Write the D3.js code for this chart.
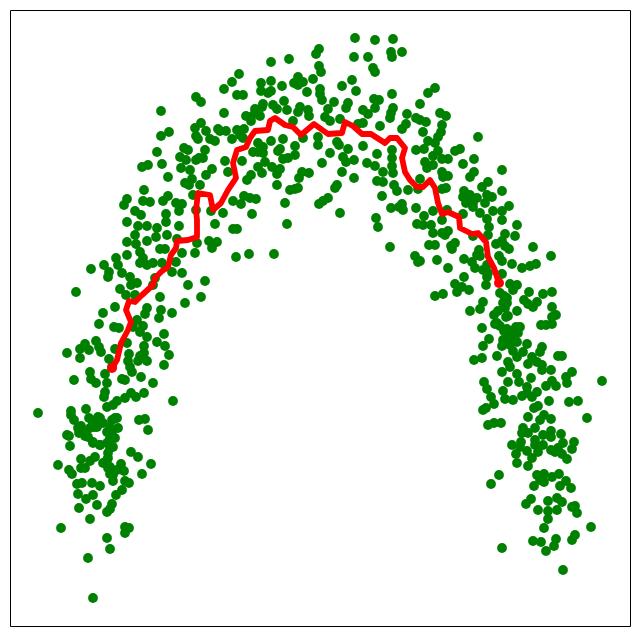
<!DOCTYPE html>
<html>
<style>
    html, body { margin: 0; padding: 0; background: #fff; }
    svg { display: block; }
</style>
<body>
<svg id="viz" width="640" height="636"></svg>
<script src="https://cdnjs.cloudflare.com/ajax/libs/d3/7.8.5/d3.min.js"></script>
<script>
// values, as [x, y]
var scatterTopLeft = [[185,529],[190,524],[150,515],[190,503],[184,498],[195,495],[158,494],[150,490],[185,490],[187,487],[207,497],[199,487],[204,485],[173,478],[177,476],[146,474],[194,476],[188,468],[185,466],[192,468],[169,469],[175,466],[151,462],[137,461],[131,459],[170,458],[179,456],[201,457],[195,451],[157,449],[181,447],[174,443],[178,441],[189,441],[133,436],[182,431],[157,430],[132,425],[139,424],[152,425],[165,423],[171,422],[116,427],[113,421],[124,415],[130,411],[168,415],[185,416],[200,415],[155,412],[116,404],[127,400],[136,400],[146,398],[155,404],[168,400],[204,402]];

var scatterTop = [[344,588],[364,586],[382,587],[308,577],[305,572],[380,574],[391,574],[343,569],[357,569],[381,569],[278,567],[260,564],[308,560],[362,558],[364,554],[310,554],[228,552],[221,544],[213,537],[250,543],[260,545],[287,549],[341,546],[302,547],[283,543],[292,544],[287,541],[271,540],[331,540],[345,535],[309,537],[296,534],[250,535],[260,535],[257,533],[309,532],[226,531],[232,531],[381,532],[311,526],[273,525],[323,524],[363,527],[368,526],[252,522],[262,521],[337,523],[335,518],[382,518],[364,518],[352,516],[317,517],[276,516],[289,519],[297,516],[266,517],[244,517],[213,513],[287,514],[396,512],[405,508],[380,513],[379,508],[357,512],[235,510],[240,509],[249,510],[298,510],[314,509],[319,505],[329,507],[282,505],[240,505],[395,502],[391,497],[369,500],[352,503],[347,502],[215,495],[226,496],[233,497],[209,495],[221,487],[229,491],[232,488],[260,485],[272,487],[292,488],[307,489],[307,481],[326,484],[352,480],[328,481],[284,480],[269,477],[247,483],[252,479],[242,474],[247,474],[252,473],[405,476],[381,476],[337,477],[319,473],[366,472],[332,469],[267,475],[284,471],[277,468],[272,467],[214,465],[231,465],[381,468],[343,466],[335,464],[311,463],[356,463],[364,460],[381,460],[254,464],[247,459],[261,459],[269,457],[331,454],[217,454],[372,454],[382,453],[251,453],[266,452],[298,453],[291,454],[288,448],[240,451],[236,446],[343,448],[366,445],[372,444],[266,441],[326,441],[324,438],[287,438],[279,436],[284,437],[383,441],[386,435],[397,436],[407,437],[371,430],[233,430],[239,428],[245,427],[222,425],[230,422],[317,428],[312,425],[308,422],[274,423],[241,412],[212,413],[329,413],[391,422],[388,419],[380,418],[405,418],[392,416],[365,408],[406,402],[276,402],[367,399],[222,397],[226,397],[225,369],[238,372],[263,372],[379,379],[404,370],[407,364],[244,513],[251,519]];

var scatterTopRight = [[424,538],[417,533],[409,522],[429,513],[435,510],[415,504],[409,506],[431,501],[412,494],[430,494],[467,489],[427,489],[417,485],[424,483],[449,477],[444,475],[413,477],[427,475],[422,470],[437,467],[431,467],[463,467],[414,464],[452,462],[422,461],[491,456],[416,458],[463,454],[459,449],[431,454],[437,450],[432,449],[477,444],[471,439],[409,447],[491,435],[435,438],[431,437],[453,435],[452,429],[459,431],[466,428],[476,431],[481,429],[455,423],[462,423],[474,423],[462,419],[498,420],[482,415],[491,415],[469,413],[422,415],[436,416],[452,412],[413,410],[431,406],[476,407],[491,406],[506,401],[412,401],[420,401],[478,399],[422,393],[437,395],[431,393],[434,391],[462,390],[477,391],[494,392],[504,390],[418,381],[424,381],[444,383],[440,380],[441,377],[491,385],[485,382],[494,380],[498,377],[522,379],[540,370],[468,376],[466,371],[488,370],[453,367],[426,366],[409,365],[461,364],[469,370],[491,365],[501,362],[525,362],[519,360],[511,358],[437,358],[464,358],[476,361],[472,356],[477,353],[491,352],[453,349],[476,349]];

var scatterRight = [[444,342],[451,339],[458,336],[446,334],[424,330],[432,332],[475,341],[499,342],[506,341],[502,336],[489,333],[518,334],[532,332],[541,334],[496,328],[513,326],[526,324],[517,322],[522,319],[541,319],[472,324],[492,323],[496,323],[469,317],[459,315],[494,318],[506,315],[487,315],[483,311],[495,309],[545,311],[541,309],[486,303],[489,300],[484,302],[530,301],[535,301],[541,302],[471,298],[505,299],[496,297],[509,299],[502,295],[507,293],[499,291],[478,287],[492,286],[497,287],[506,284],[499,281],[516,282],[491,280],[472,280],[531,279],[529,274],[502,275],[512,274],[506,269],[521,269],[486,270],[471,268],[463,266],[547,270],[551,270],[497,264],[526,264],[517,262],[499,259],[531,261],[531,256],[540,256],[491,254],[506,252],[561,254],[555,249],[520,248],[508,244],[497,244],[556,243],[473,244],[591,245],[541,245],[535,240],[545,240],[516,239],[476,237],[492,235],[526,234],[516,233],[511,230],[521,229],[480,229],[494,227],[502,226],[538,225],[558,224],[567,225],[483,222],[475,218],[472,216],[527,220],[523,218],[533,211],[517,209],[540,207],[529,206],[576,208],[490,203],[483,203],[477,201],[524,198],[512,198],[511,193],[517,193],[532,191],[540,195],[540,189],[550,192],[563,184],[524,186],[510,184],[501,181],[524,181],[532,181],[509,179],[552,183],[547,178],[561,177],[516,175],[527,174],[540,176],[544,174],[551,172],[505,172],[556,167],[521,168],[506,163],[517,160],[493,330],[497,310],[493,295],[500,288]];

var scatterBottomRight = [[488,151],[480,142],[526,151],[533,152],[541,149],[548,152],[555,145],[533,144],[529,146],[523,140],[549,140],[560,138],[520,127],[515,122],[546,128],[537,125],[551,124],[527,116],[537,115],[546,116],[561,119],[564,120],[566,113],[537,107],[533,98],[580,99],[564,91],[561,86],[545,87],[522,85],[530,84],[543,80],[535,75],[491,78],[552,56]];

var scatterLeft = [[124,391],[116,384],[125,382],[136,385],[145,389],[156,391],[166,387],[186,383],[198,385],[206,384],[201,378],[149,377],[154,377],[184,373],[171,373],[129,374],[116,371],[132,368],[105,368],[93,361],[107,361],[129,363],[136,361],[142,363],[151,363],[165,364],[80,357],[98,354],[97,349],[111,353],[119,349],[161,354],[171,353],[126,343],[120,341],[144,348],[177,341],[194,345],[109,337],[65,334],[115,331],[142,341],[124,331],[149,329],[190,329],[174,323],[104,319],[136,318],[150,316],[134,312],[92,313],[161,313],[148,308],[126,306],[88,302],[103,299],[108,298],[132,300],[122,299],[129,294],[153,292],[136,289],[116,283],[146,284],[85,285],[74,282],[69,277],[78,276],[88,279],[90,274],[133,280],[154,280],[104,277],[133,273],[56,273],[158,271],[118,272],[129,270],[69,268],[98,267],[117,265],[127,265],[136,265],[153,261],[119,259],[101,259],[79,254],[121,254],[94,252],[130,249],[63,246],[80,247],[85,243],[111,247],[114,246],[142,243],[96,243],[94,234],[93,229],[133,233],[120,233],[125,229],[114,228],[106,225],[102,221],[96,219],[162,225],[27,213],[60,215],[75,217],[60,211],[63,206],[87,209],[78,208],[106,208],[101,206],[134,207],[128,206],[82,203],[92,203],[70,200],[86,199],[79,198],[99,199],[107,198],[137,196]];

var scatterBottomLeft = [[56,191],[58,190],[68,193],[74,190],[77,189],[81,199],[101,194],[99,188],[104,188],[59,180],[82,183],[89,181],[96,183],[102,179],[97,173],[120,174],[127,169],[70,167],[84,169],[79,165],[96,166],[47,161],[140,162],[58,156],[61,152],[70,158],[74,158],[110,162],[97,158],[106,156],[113,155],[99,152],[131,152],[102,145],[114,145],[118,143],[66,142],[71,143],[81,143],[89,140],[111,136],[105,131],[67,132],[75,127],[82,131],[86,121],[68,118],[101,122],[99,117],[96,114],[79,107],[50,98],[114,99],[118,98],[114,93],[96,88],[99,77],[77,68],[82,28],[82,204],[89,208],[84,199],[96,194],[101,188],[99,178],[97,168],[99,159],[102,151],[92,163],[104,208],[89,181],[82,184],[72,194],[67,198]];

var curveValues = [[101,258],[106,266],[110,283],[117,296],[120,304],[115,316],[118,325],[124,324],[131,331],[142,341],[144,348],[151,355],[157,359],[160,371],[165,378],[166,385],[177,386],[186,389],[186,406],[185,416],[187,433],[199,431],[202,416],[210,423],[217,436],[225,448],[222,463],[226,476],[235,479],[239,488],[244,495],[257,496],[259,505],[264,508],[274,501],[282,499],[290,491],[303,502],[317,492],[331,493],[334,504],[342,500],[351,492],[360,492],[374,483],[379,488],[386,488],[394,478],[391,468],[394,454],[399,446],[406,439],[412,439],[419,446],[424,438],[427,423],[431,412],[437,414],[448,409],[449,398],[461,392],[467,393],[475,384],[477,369],[483,358],[487,346],[488,343]];

var scatterValues = [].concat(scatterTopLeft, scatterTop, scatterTopRight, scatterRight,
    scatterBottomRight, scatterLeft, scatterBottomLeft);

var svg = d3.select('#viz');

var x = d3.scaleLinear().domain([-1, 619]).range([10, 630]);
var y = d3.scaleLinear().domain([0, 616]).range([626, 10]);

// no ticks on this one, the axes only give the frame
function frame(axis, tx, ty) {
    svg.append('g')
        .attr('transform', 'translate(' + tx + ',' + ty + ')')
        .call(axis.tickValues([]).tickSizeOuter(0))
        .select('.domain')
        .attr('stroke', '#000')
        .attr('stroke-width', 1);
}

svg.selectAll('circle.dot')
    .data(scatterValues)
    .enter()
    .append('circle')
    .attr('class', 'dot')
    .attr('cx', function(d) { return x(d[0]); })
    .attr('cy', function(d) { return y(d[1]); })
    .attr('r', 4.9)
    .attr('fill', 'green');

var line = d3.line()
    .x(function(d) { return x(d[0]); })
    .y(function(d) { return y(d[1]); });

svg.append('path')
    .datum(curveValues)
    .attr('d', line)
    .attr('fill', 'none')
    .attr('stroke', 'red')
    .attr('stroke-width', 5.8)
    .attr('stroke-linejoin', 'round')
    .attr('stroke-linecap', 'round');

// the curve ends are drawn heavier
svg.selectAll('circle.end')
    .data([curveValues[0], curveValues[curveValues.length - 1]])
    .enter()
    .append('circle')
    .attr('class', 'end')
    .attr('cx', function(d) { return x(d[0]); })
    .attr('cy', function(d) { return y(d[1]); })
    .attr('r', 5)
    .attr('fill', 'red');

frame(d3.axisBottom(x), 0, 626);
frame(d3.axisTop(x), 0, 10);
frame(d3.axisLeft(y), 10, 0);
frame(d3.axisRight(y), 630, 0);
</script>
</body>
</html>
